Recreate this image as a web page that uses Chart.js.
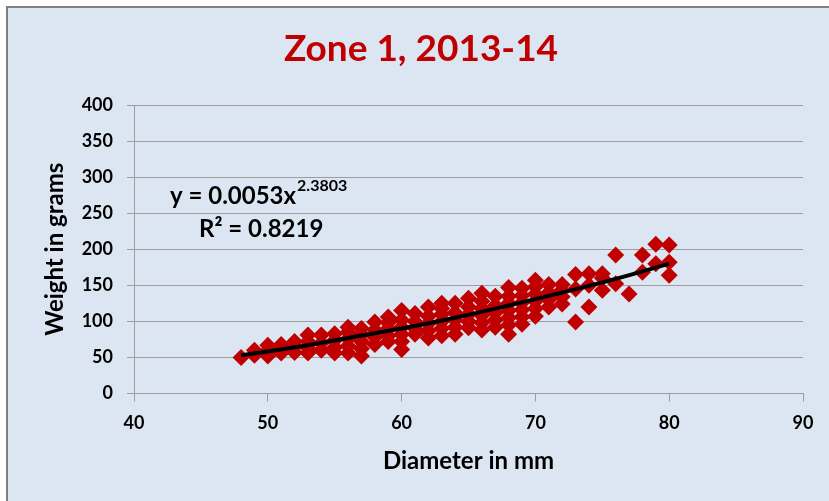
<!DOCTYPE html>
<html>
<head>
<meta charset="utf-8">
<script src="https://cdn.jsdelivr.net/npm/chart.js@4/dist/chart.umd.min.js"></script>
<style>
  html, body { margin: 0; padding: 0; background: #fff; overflow: hidden; }
  #frame {
    position: absolute; left: 6px; top: 6px; width: 840px; height: 510px;
    background: #DCE6F2; border-left: 2px solid #7f7f7f; border-top: 2px solid #7f7f7f;
  }
  #wrap { position: absolute; left: 0; top: 0; width: 829px; height: 501px; }
</style>
</head>
<body>
<div id="frame"></div>
<div id="wrap"><canvas id="chart" width="829" height="501"></canvas></div>
<script>
// diameters (mm) and weights (g)
const diameters = [
  48,
  49, 49,
  50, 50, 50,
  51, 51, 51,
  52, 52, 52,
  53, 53, 53, 53,
  54, 54, 54,
  55, 55, 55, 55,
  56, 56, 56, 56, 56,
  57, 57, 57, 57, 57,
  58, 58, 58, 58,
  59, 59, 59, 59, 59,
  60, 60, 60, 60, 60, 60,
  61, 61, 61, 61,
  62, 62, 62, 62, 62,
  63, 63, 63, 63, 63, 63,
  64, 64, 64, 64, 64,
  65, 65, 65, 65, 65,
  66, 66, 66, 66, 66, 66,
  67, 67, 67, 67, 67,
  68, 68, 68, 68, 68, 68, 68,
  69, 69, 69, 69, 69, 69,
  70, 70, 70, 70, 70, 70,
  71, 71, 71, 71,
  72, 72, 72, 72,
  73, 73, 73,
  74, 74, 74,
  75, 75, 75,
  76, 76,
  77,
  78, 78,
  79, 79,
  80, 80, 80
];
const weights = [
  50,
  53, 60,
  52, 60, 67,
  56, 62, 68,
  57, 65, 72,
  56, 63, 72, 81,
  60, 70, 81,
  56, 64, 74, 83,
  56, 66, 76, 85, 92,
  52, 62, 72, 82, 90,
  68, 78, 88, 99,
  72, 80, 90, 98, 106,
  61, 72, 82, 92, 102, 115,
  82, 90, 100, 111,
  77, 87, 97, 107, 120,
  80, 90, 100, 110, 118, 125,
  82, 92, 102, 112, 125,
  91, 100, 110, 120, 132,
  88, 98, 108, 118, 128, 139,
  92, 102, 112, 122, 135,
  82, 95, 105, 115, 125, 135, 147,
  96, 106, 116, 126, 136, 146,
  107, 118, 128, 138, 148, 157,
  120, 130, 140, 151,
  124, 134, 144, 151,
  99, 145, 165,
  120, 150, 166,
  143, 160, 166,
  152, 192,
  138,
  168, 192,
  180, 207,
  164, 182, 206
];

// power trendline as drawn (y = 0.0053x^2.3803)
const trendX = [48, 52, 56, 60, 64, 68, 72, 76, 80];
const trendY = [53, 64, 77, 90, 105, 122, 140, 159, 180];

const xTicks = [40, 50, 60, 70, 80, 90];
const yTicks = [0, 50, 100, 150, 200, 250, 300, 350, 400];

const titleText = 'Zone 1, 2013-14';
const eqText = 'y = 0.0053x';
const eqExp = '2.3803';
const r2Text = 'R² = 0.8219';

const FONT = 'Lato, "Open Sans", sans-serif';
const gridGray = '#9d9d9d';

const points = diameters.map((d, i) => ({ x: d, y: weights[i] }));
const trend = trendX.map((d, i) => ({ x: d, y: trendY[i] }));

// title sits centred on the whole frame, not on the plot, so draw it here
// together with the trendline equation
const textPlugin = {
  id: 'texts',
  afterDraw(chart) {
    const c = chart.ctx;
    c.save();
    c.textBaseline = 'middle';
    c.fillStyle = '#C00000';
    c.textAlign = 'center';
    c.font = 'bold 37px ' + FONT;
    c.fillText(titleText, 421, 49);

    c.fillStyle = '#000';
    c.textAlign = 'left';
    c.font = 'bold 24px ' + FONT;
    c.fillText(eqText, 170, 196);
    let w = c.measureText(eqText).width;
    c.font = 'bold 16px ' + FONT;
    c.fillText(eqExp, 170 + w + 1, 186);
    c.font = 'bold 24px ' + FONT;
    c.fillText(r2Text, 199, 229);
    c.restore();
  }
};

var ctx = document.getElementById('chart').getContext('2d');
var chart = new Chart(ctx, {
    type: 'scatter',
    data: {
        datasets: [{
            label: 'Trend',
            type: 'line',
            data: trend,
            borderColor: '#000',
            borderWidth: 4,
            pointRadius: 0,
            tension: 0.4,
            fill: false,
            order: 0
        }, {
            label: 'Weight',
            data: points,
            pointStyle: 'rectRot',
            pointRadius: 8.5,
            pointBackgroundColor: '#C00000',
            pointBorderColor: '#C00000',
            pointBorderWidth: 0,
            order: 1
        }]
    },
    options: {
        responsive: false,
        animation: false,
        layout: { padding: { left: 8, right: 26, top: 105, bottom: 0 } },
        plugins: {
            legend: { display: false },
            tooltip: { enabled: false },
            title: { display: false }
        },
        scales: {
            x: {
                type: 'linear',
                min: 40, max: 90,
                afterBuildTicks: s => { s.ticks = xTicks.map(v => ({ value: v })); },
                afterFit: s => { s.height = 107.5; },
                ticks: { color: '#000', padding: 11, font: { family: FONT, size: 18, weight: 'bold' } },
                grid: { drawOnChartArea: false, drawTicks: true, tickLength: 8, color: gridGray },
                border: { display: true, color: gridGray },
                title: {
                    display: true, text: 'Diameter in mm', color: '#000',
                    font: { family: FONT, size: 24, weight: 'bold' },
                    padding: { top: 0, bottom: 25 }
                }
            },
            y: {
                min: 0, max: 400,
                afterBuildTicks: s => { s.ticks = yTicks.map(v => ({ value: v })); },
                afterFit: s => { s.width = 126; },
                ticks: { color: '#000', padding: 14, font: { family: FONT, size: 18, weight: 'bold' } },
                grid: { drawTicks: true, tickLength: 7, color: gridGray },
                border: { display: true, color: gridGray },
                title: {
                    display: true, text: 'Weight in grams', color: '#000',
                    font: { family: FONT, size: 24, weight: 'bold' },
                    padding: { top: 33, bottom: 0 }
                }
            }
        }
    },
    plugins: [textPlugin]
});
</script>
</body>
</html>
